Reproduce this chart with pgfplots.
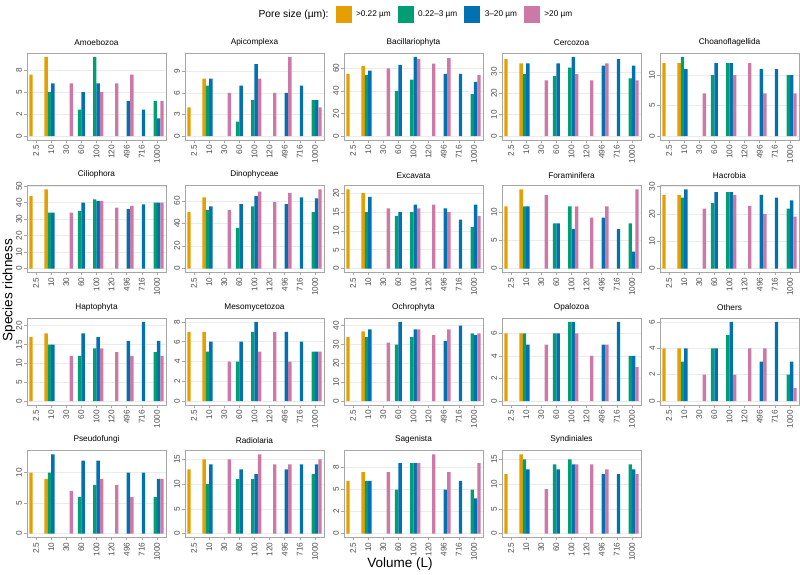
\documentclass[border=0pt]{standalone}
\usepackage{fontspec}
\setmainfont{Liberation Sans}
\usepackage{pgfplots}
\pgfplotsset{compat=1.18}
\definecolor{cO}{HTML}{E69F00}
\definecolor{cG}{HTML}{009E73}
\definecolor{cB}{HTML}{0072B2}
\definecolor{cP}{HTML}{CC79A7}
\definecolor{tickgray}{HTML}{4D4D4D}
\definecolor{framegray}{HTML}{A6A6A6}
\definecolor{gridgray}{HTML}{EBEBEB}
\newcommand{\tsz}{\fontsize{8.25}{9}\selectfont}
\newcommand{\lsz}{\fontsize{10.3}{12}\selectfont}
\newcommand{\asz}{\fontsize{13.5}{15}\selectfont}
\pgfplotsset{
  panel/.style={
    scale only axis, width=139pt, height=87pt, anchor=north west,
    xmin=-0.6, xmax=8.6,
    xtick={0,...,8}, xticklabels={2.5,10,30,60,100,120,496,716,1000},
    xticklabel style={rotate=90, anchor=east, font=\tsz, text=tickgray, inner sep=2pt},
    yticklabel style={rotate=90, anchor=south, font=\tsz, text=tickgray, inner sep=2pt},
    /pgf/number format/assume math mode=true,
    tick pos=left, tick align=outside, major tick length=2.75pt,
    tick style={framegray, line width=0.5pt},
    axis line style={framegray, line width=0.6pt},
    ymajorgrids, grid style={gridgray, line width=0.5pt},
    title style={font=\tsz, yshift=-1pt, inner sep=2pt},
    ybar, bar width=0.225,
  },
  sO/.style={fill=cO, draw=none, bar shift=-0.3375},
  sG/.style={fill=cG, draw=none, bar shift=-0.1125},
  sB/.style={fill=cB, draw=none, bar shift=0.1125},
  sP/.style={fill=cP, draw=none, bar shift=0.3375},
}
\begin{document}
\begin{tikzpicture}
\path[use as bounding box] (0pt,0pt) rectangle (800pt,574pt);
% ---------- Row 1 ----------
\begin{axis}[panel, at={(27pt,521pt)}, title={Amoebozoa}, ymin=-0.45, ymax=9.45, ytick={0,2.5,5,7.5}, yticklabels={0,2,5,8},
  legend style={draw=none, fill=none, at={(2.784,1.448)}, anchor=center, legend columns=5, font=\tsz,
    /tikz/every odd column/.append style={column sep=3pt},
    /tikz/every even column/.append style={column sep=5pt}}]
\addlegendimage{empty legend}\addlegendentry{\lsz Pore size (µm):}
\addlegendimage{legend image code/.code={\fill[cO] (0pt,-8pt) rectangle (15pt,8pt);}}\addlegendentry{>0.22 µm}
\addlegendimage{legend image code/.code={\fill[cG] (0pt,-8pt) rectangle (15pt,8pt);}}\addlegendentry{0.22–3 µm}
\addlegendimage{legend image code/.code={\fill[cB] (0pt,-8pt) rectangle (15pt,8pt);}}\addlegendentry{3–20 µm}
\addlegendimage{legend image code/.code={\fill[cP] (0pt,-8pt) rectangle (15pt,8pt);}}\addlegendentry{>20 µm}
\addplot[sO] coordinates {(0,7) (1,9)};
\addplot[sG] coordinates {(1,5) (3,3) (4,9) (8,4)};
\addplot[sB] coordinates {(1,6) (3,5) (4,6) (6,4) (7,3) (8,2)};
\addplot[sP] coordinates {(2,6) (4,5) (5,6) (6,7) (8,4)};
\end{axis}
\begin{axis}[panel, at={(185pt,521pt)}, title={Apicomplexa}, ymin=-0.55, ymax=11.55, ytick={0,3,6,9}]
\addplot[sO] coordinates {(0,4) (1,8)};
\addplot[sG] coordinates {(1,7) (3,2) (4,5) (8,5)};
\addplot[sB] coordinates {(1,8) (3,7) (4,10) (6,6) (7,7) (8,5)};
\addplot[sP] coordinates {(2,6) (4,8) (5,6) (6,11) (8,4)};
\end{axis}
\begin{axis}[panel, at={(344pt,521pt)}, title={Bacillariophyta}, ymin=-3.5, ymax=73.5, ytick={0,20,40,60}]
\addplot[sO] coordinates {(0,55) (1,62)};
\addplot[sG] coordinates {(1,54) (3,40) (4,50) (8,37)};
\addplot[sB] coordinates {(1,58) (3,63) (4,70) (6,55) (7,55) (8,48)};
\addplot[sP] coordinates {(2,60) (4,68) (5,64) (6,69) (8,54)};
\end{axis}
\begin{axis}[panel, at={(502pt,521pt)}, title={Cercozoa}, ymin=-1.85, ymax=38.85, ytick={0,10,20,30}]
\addplot[sO] coordinates {(0,36) (1,34)};
\addplot[sG] coordinates {(1,29) (3,28) (4,32) (8,27)};
\addplot[sB] coordinates {(1,34) (3,34) (4,37) (6,33) (7,36) (8,33)};
\addplot[sP] coordinates {(2,26) (4,29) (5,26) (6,34) (8,26)};
\end{axis}
\begin{axis}[panel, at={(660pt,521pt)}, title={Choanoflagellida}, ymin=-0.65, ymax=13.65, ytick={0,5,10}]
\addplot[sO] coordinates {(0,12) (1,12)};
\addplot[sG] coordinates {(1,13) (3,10) (4,12) (8,10)};
\addplot[sB] coordinates {(1,11) (3,12) (4,12) (6,11) (7,11) (8,10)};
\addplot[sP] coordinates {(2,7) (4,10) (5,12) (6,7) (8,7)};
\end{axis}
% ---------- Row 2 ----------
\begin{axis}[panel, at={(27pt,388.5pt)}, title={Ciliophora}, ymin=-2.4, ymax=50.4, ytick={0,10,20,30,40,50}]
\addplot[sO] coordinates {(0,44) (1,48)};
\addplot[sG] coordinates {(1,34) (3,35) (4,42) (8,40)};
\addplot[sB] coordinates {(1,34) (3,40) (4,41) (6,36) (7,39) (8,40)};
\addplot[sP] coordinates {(2,34) (4,41) (5,37) (6,38) (8,40)};
\end{axis}
\begin{axis}[panel, at={(185pt,388.5pt)}, title={Dinophyceae}, ymin=-3.5, ymax=73.5, ytick={0,20,40,60}]
\addplot[sO] coordinates {(0,50) (1,63)};
\addplot[sG] coordinates {(1,52) (3,36) (4,55) (8,50)};
\addplot[sB] coordinates {(1,55) (3,57) (4,64) (6,57) (7,63) (8,62)};
\addplot[sP] coordinates {(2,52) (4,68) (5,59) (6,67) (8,70)};
\end{axis}
\begin{axis}[panel, at={(344pt,388.5pt)}, title={Excavata}, ymin=-1.05, ymax=22.05, ytick={0,5,10,15,20}]
\addplot[sO] coordinates {(0,21) (1,20)};
\addplot[sG] coordinates {(1,15) (3,14) (4,15) (8,11)};
\addplot[sB] coordinates {(1,19) (3,15) (4,17) (6,16) (7,13) (8,17)};
\addplot[sP] coordinates {(2,16) (4,16) (5,17) (6,15) (8,14)};
\end{axis}
\begin{axis}[panel, at={(502pt,388.5pt)}, title={Foraminifera}, ymin=-0.7, ymax=14.7, ytick={0,5,10}]
\addplot[sO] coordinates {(0,11) (1,14)};
\addplot[sG] coordinates {(1,11) (3,8) (4,11) (8,8)};
\addplot[sB] coordinates {(1,11) (3,8) (4,7) (6,9) (7,7) (8,3)};
\addplot[sP] coordinates {(2,13) (4,11) (5,9) (6,11) (8,14)};
\end{axis}
\begin{axis}[panel, at={(660pt,388.5pt)}, title={Hacrobia}, ymin=-1.45, ymax=30.45, ytick={0,10,20,30}]
\addplot[sO] coordinates {(0,27) (1,27)};
\addplot[sG] coordinates {(1,26) (3,24) (4,28) (8,22)};
\addplot[sB] coordinates {(1,29) (3,28) (4,28) (6,27) (7,26) (8,25)};
\addplot[sP] coordinates {(2,22) (4,27) (5,23) (6,20) (8,19)};
\end{axis}
% ---------- Row 3 ----------
\begin{axis}[panel, at={(27pt,256pt)}, title={Haptophyta}, ymin=-1.05, ymax=22.05, ytick={0,5,10,15,20}]
\addplot[sO] coordinates {(0,17) (1,18)};
\addplot[sG] coordinates {(1,15) (3,12) (4,14) (8,13)};
\addplot[sB] coordinates {(1,15) (3,18) (4,17) (6,16) (7,21) (8,16)};
\addplot[sP] coordinates {(2,12) (4,14) (5,13) (6,12) (8,12)};
\end{axis}
\begin{axis}[panel, at={(185pt,256pt)}, title={Mesomycetozoa}, ymin=-0.4, ymax=8.4, ytick={0,2,4,6,8}]
\addplot[sO] coordinates {(0,7) (1,7)};
\addplot[sG] coordinates {(1,5) (3,4) (4,7) (8,5)};
\addplot[sB] coordinates {(1,6) (3,6) (4,8) (6,7) (7,6) (8,5)};
\addplot[sP] coordinates {(2,4) (4,5) (5,7) (6,4) (8,5)};
\end{axis}
\begin{axis}[panel, at={(344pt,256pt)}, title={Ochrophyta}, ymin=-2.1, ymax=44.1, ytick={0,10,20,30,40}]
\addplot[sO] coordinates {(0,34) (1,37)};
\addplot[sG] coordinates {(1,34) (3,30) (4,34) (8,36)};
\addplot[sB] coordinates {(1,38) (3,42) (4,38) (6,32) (7,40) (8,35)};
\addplot[sP] coordinates {(2,31) (4,38) (5,35) (6,38) (8,36)};
\end{axis}
\begin{axis}[panel, at={(502pt,256pt)}, title={Opalozoa}, ymin=-0.35, ymax=7.35, ytick={0,2,4,6}]
\addplot[sO] coordinates {(0,6) (1,6)};
\addplot[sG] coordinates {(1,6) (3,6) (4,7) (8,4)};
\addplot[sB] coordinates {(1,5) (3,6) (4,7) (6,5) (7,7) (8,4)};
\addplot[sP] coordinates {(2,5) (4,6) (5,4) (6,5) (8,3)};
\end{axis}
\begin{axis}[panel, at={(660pt,256pt)}, title={Others}, ymin=-0.3, ymax=6.3, ytick={0,2,4,6}]
\addplot[sO] coordinates {(0,4) (1,4)};
\addplot[sG] coordinates {(1,3) (3,4) (4,5) (8,2)};
\addplot[sB] coordinates {(1,4) (3,4) (4,6) (6,3) (7,6) (8,3)};
\addplot[sP] coordinates {(2,2) (4,2) (5,4) (6,4) (8,1)};
\end{axis}
% ---------- Row 4 ----------
\begin{axis}[panel, at={(27pt,123.5pt)}, title={Pseudofungi}, ymin=-0.65, ymax=13.65, ytick={0,5,10}]
\addplot[sO] coordinates {(0,10) (1,9)};
\addplot[sG] coordinates {(1,10) (3,6) (4,8) (8,6)};
\addplot[sB] coordinates {(1,13) (3,12) (4,12) (6,10) (7,10) (8,9)};
\addplot[sP] coordinates {(2,7) (4,9) (5,8) (6,6) (8,9)};
\end{axis}
\begin{axis}[panel, at={(185pt,123.5pt)}, title={Radiolaria}, ymin=-0.8, ymax=16.8, ytick={0,5,10,15}]
\addplot[sO] coordinates {(0,13) (1,15)};
\addplot[sG] coordinates {(1,10) (3,11) (4,11) (8,12)};
\addplot[sB] coordinates {(1,14) (3,13) (4,12) (6,13) (7,14) (8,14)};
\addplot[sP] coordinates {(2,15) (4,16) (5,14) (6,14) (8,15)};
\end{axis}
\begin{axis}[panel, at={(344pt,123.5pt)}, title={Sagenista}, ymin=-0.45, ymax=9.45, ytick={0,2.5,5,7.5}, yticklabels={0,2,5,8}]
\addplot[sO] coordinates {(0,6) (1,7)};
\addplot[sG] coordinates {(1,6) (3,5) (4,8) (8,5)};
\addplot[sB] coordinates {(1,6) (3,8) (4,8) (6,5) (7,6) (8,4)};
\addplot[sP] coordinates {(2,7) (4,8) (5,9) (6,7) (8,8)};
\end{axis}
\begin{axis}[panel, at={(502pt,123.5pt)}, title={Syndiniales}, ymin=-0.8, ymax=16.8, ytick={0,5,10,15}]
\addplot[sO] coordinates {(0,12) (1,16)};
\addplot[sG] coordinates {(1,15) (3,14) (4,15) (8,14)};
\addplot[sB] coordinates {(1,13) (3,13) (4,14) (6,12) (7,12) (8,13)};
\addplot[sP] coordinates {(2,9) (4,14) (5,14) (6,13) (8,12)};
\end{axis}
% axis titles
\node[rotate=90, font=\asz] at (9pt,284pt) {Species richness};
\node[font=\asz] at (400pt,10pt) {Volume (L)};
\end{tikzpicture}
\end{document}
